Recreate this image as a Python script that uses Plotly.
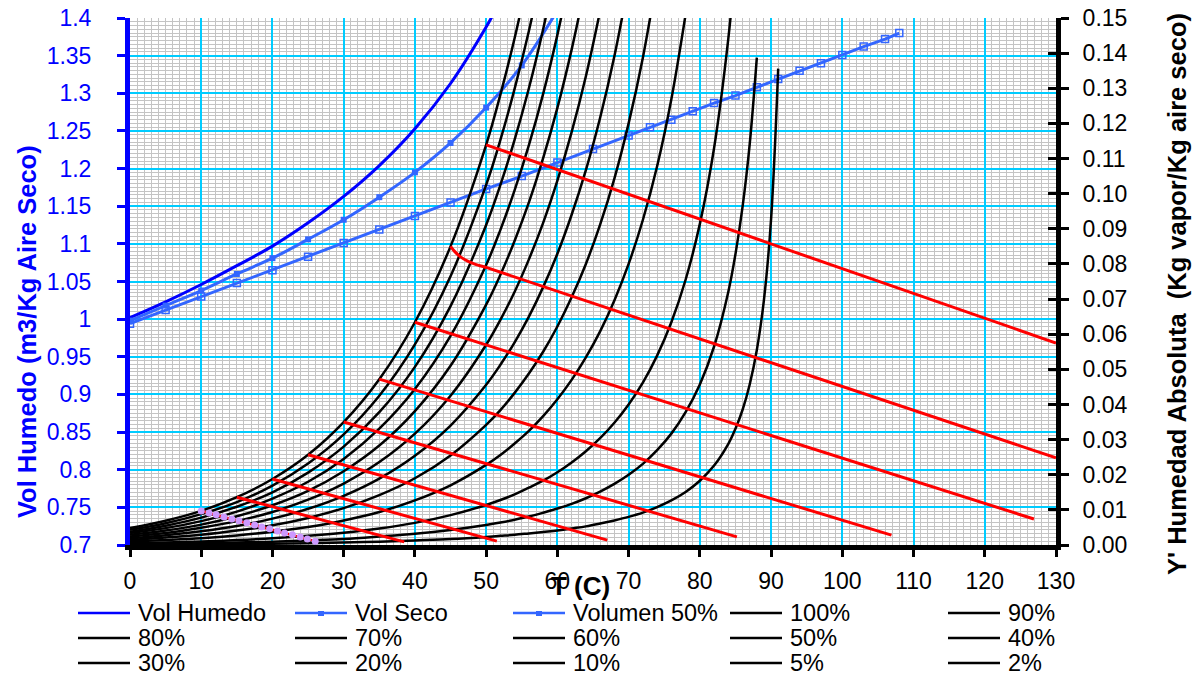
import plotly.graph_objects as go

# ---------------- data ----------------
# temperature grid (C) shared by the humidity curves
T_GRID = [0, 5, 10, 15, 20, 25, 30, 35, 40, 45, 50, 52, 54, 56, 58, 60, 62, 64, 66, 68,
          70, 72, 74, 76, 78, 80, 82, 84, 85, 86, 87, 88, 89, 90, 91]

# absolute humidity Y' (kg vapor / kg dry air) for each percentage-humidity curve
Y_100 = [0.0048, 0.0069, 0.0097, 0.0136, 0.0188, 0.0257, 0.0350, 0.0472, 0.0634, 0.0850, 0.1139,
         0.1282, 0.1443, 0.1626]
Y_90 = [0.0043, 0.0062, 0.0088, 0.0122, 0.0169, 0.0232, 0.0315, 0.0425, 0.0571, 0.0765, 0.1025,
        0.1153, 0.1299, 0.1463, 0.1651]
Y_80 = [0.0038, 0.0055, 0.0078, 0.0109, 0.0150, 0.0206, 0.0280, 0.0378, 0.0507, 0.0680, 0.0911,
        0.1025, 0.1154, 0.1300, 0.1468, 0.1659]
Y_70 = [0.0034, 0.0048, 0.0068, 0.0095, 0.0132, 0.0180, 0.0245, 0.0331, 0.0444, 0.0595, 0.0797,
        0.0897, 0.1010, 0.1138, 0.1284, 0.1452, 0.1644]
Y_60 = [0.0029, 0.0041, 0.0058, 0.0082, 0.0113, 0.0154, 0.0210, 0.0283, 0.0381, 0.0510, 0.0684,
        0.0769, 0.0866, 0.0975, 0.1101, 0.1244, 0.1410, 0.1601]
Y_50 = [0.0024, 0.0034, 0.0049, 0.0068, 0.0094, 0.0129, 0.0175, 0.0236, 0.0317, 0.0425, 0.0570,
        0.0641, 0.0721, 0.0813, 0.0917, 0.1037, 0.1175, 0.1334, 0.1520]
Y_40 = [0.0019, 0.0028, 0.0039, 0.0054, 0.0075, 0.0103, 0.0140, 0.0189, 0.0254, 0.0340, 0.0456,
        0.0513, 0.0577, 0.0650, 0.0734, 0.0829, 0.0940, 0.1067, 0.1216, 0.1391, 0.1600]
Y_30 = [0.0014, 0.0021, 0.0029, 0.0041, 0.0056, 0.0077, 0.0105, 0.0142, 0.0190, 0.0255, 0.0342,
        0.0384, 0.0433, 0.0488, 0.0550, 0.0622, 0.0705, 0.0800, 0.0912, 0.1043, 0.1200, 0.1387,
        0.1617]
Y_20 = [0.0010, 0.0014, 0.0019, 0.0027, 0.0038, 0.0051, 0.0070, 0.0094, 0.0127, 0.0170, 0.0228,
        0.0256, 0.0289, 0.0325, 0.0367, 0.0415, 0.0470, 0.0534, 0.0608, 0.0696, 0.0800, 0.0925,
        0.1078, 0.1269, 0.1510]
Y_10 = [0.0005, 0.0007, 0.0010, 0.0014, 0.0019, 0.0026, 0.0035, 0.0047, 0.0063, 0.0085, 0.0114,
        0.0128, 0.0144, 0.0163, 0.0183, 0.0207, 0.0235, 0.0267, 0.0304, 0.0348, 0.0400, 0.0462,
        0.0539, 0.0634, 0.0755, 0.0914, 0.1130, 0.1442, 0.1655]
Y_5 = [0.00024, 0.00034, 0.00049, 0.00068, 0.00094, 0.0013, 0.0017, 0.0024, 0.0032, 0.0043, 0.0057,
       0.0064, 0.0072, 0.0081, 0.0092, 0.0104, 0.0117, 0.0133, 0.0152, 0.0174, 0.0200, 0.0231,
       0.0270, 0.0317, 0.0378, 0.0457, 0.0565, 0.0721, 0.0828, 0.0963, 0.1141, 0.1387]
Y_2 = [0.0001, 0.00014, 0.00019, 0.00027, 0.00038, 0.00051, 0.0007, 0.00094, 0.0013, 0.0017, 0.0023,
       0.0026, 0.0029, 0.0033, 0.0037, 0.0041, 0.0047, 0.0053, 0.0061, 0.0070, 0.0080, 0.0092,
       0.0108, 0.0127, 0.0151, 0.0183, 0.0226, 0.0288, 0.0331, 0.0385, 0.0457, 0.0555, 0.0698,
       0.0928, 0.1356]

HUM_LABELS = ["100%", "90%", "80%", "70%", "60%", "50%", "40%", "30%", "20%", "10%", "5%", "2%"]

# humid volumes (m3 / kg dry air), left axis
T_VHUM = [0, 5, 10, 15, 20, 25, 30, 35, 40, 45, 50, 52]
V_HUM = [1.002, 1.023, 1.046, 1.071, 1.097, 1.128, 1.163, 1.204, 1.253, 1.313, 1.388, 1.423]

T_VSECO = [0, 5, 10, 15, 20, 25, 30, 35, 40, 45, 50, 55, 60, 65, 70, 73, 76, 79, 82, 85, 88, 91,
           94, 97, 100, 103, 106, 108]
V_SECO = [0.994, 1.012, 1.030, 1.048, 1.065, 1.083, 1.101, 1.119, 1.137, 1.155, 1.173, 1.190,
          1.208, 1.226, 1.244, 1.255, 1.265, 1.276, 1.287, 1.297, 1.308, 1.319, 1.330, 1.340,
          1.351, 1.362, 1.372, 1.380]

T_V50 = [0, 5, 10, 15, 20, 25, 30, 35, 40, 45, 50, 55, 60]
V_50 = [0.998, 1.018, 1.038, 1.060, 1.081, 1.106, 1.132, 1.162, 1.195, 1.234, 1.281, 1.337, 1.410]

# adiabatic saturation lines (right axis)
AD10_T = [10.0, 11.1, 12.1, 13.2, 14.3, 15.3, 16.4, 17.5, 18.5, 19.6, 20.7, 21.7, 22.8, 23.9, 24.9, 26.0]
AD10_Y = [0.0097, 0.0091, 0.0086, 0.0080, 0.0074, 0.0069, 0.0063, 0.0057, 0.0051, 0.0046, 0.0040,
          0.0034, 0.0029, 0.0023, 0.0017, 0.0011]
AD15_T, AD15_Y = [15, 38.5], [0.0136, 0.0009]
AD20_T, AD20_Y = [20, 51.5], [0.0188, 0.0011]
AD25_T, AD25_Y = [25, 67.0], [0.0257, 0.0014]
AD30_T, AD30_Y = [30, 85.2], [0.0350, 0.0023]
AD35_T, AD35_Y = [35, 106.9], [0.0472, 0.0028]
AD40_T, AD40_Y = [40, 126.9], [0.0634, 0.0074]
AD45_T = [45.0, 45.6, 46.4, 47.4, 48.6, 50.0, 130.0]
AD45_Y = [0.0850, 0.0835, 0.0820, 0.0808, 0.0798, 0.0790, 0.0248]
AD50_T, AD50_Y = [50, 130], [0.1139, 0.0575]

# ---------------- styling ----------------
FONT = "Liberation Sans, Arial, sans-serif"
BLUE_DARK = "#0000FF"
BLUE = "#3366FF"
CYAN = "#00CCFF"
GRAY = "#C4C4C4"
RED = "#FF0000"
LAVENDER = "#CC99FF"

fig = go.Figure()

# volumes on left axis
fig.add_trace(go.Scatter(x=T_VHUM, y=V_HUM, mode="lines", name="Vol Humedo",
                         line=dict(color=BLUE_DARK, width=3, shape="spline"), yaxis="y"))
fig.add_trace(go.Scatter(x=T_VSECO, y=V_SECO, mode="lines+markers", name="Vol Seco",
                         line=dict(color=BLUE, width=3),
                         marker=dict(symbol="square-open", size=7, color=BLUE,
                                     line=dict(color=BLUE, width=1.5)), yaxis="y"))
fig.add_trace(go.Scatter(x=T_V50, y=V_50, mode="lines+markers", name="Volumen 50%",
                         line=dict(color=BLUE, width=3, shape="spline"),
                         marker=dict(symbol="square", size=6, color=BLUE), yaxis="y"))

# humidity curves on right axis
for lab, ys in zip(HUM_LABELS, [Y_100, Y_90, Y_80, Y_70, Y_60, Y_50, Y_40, Y_30, Y_20, Y_10, Y_5, Y_2]):
    fig.add_trace(go.Scatter(x=T_GRID[:len(ys)], y=ys, mode="lines", name=lab,
                             line=dict(color="black", width=2.5, shape="spline"), yaxis="y2"))

# adiabatic lines
for tt, yy in [(AD15_T, AD15_Y), (AD20_T, AD20_Y), (AD25_T, AD25_Y), (AD30_T, AD30_Y),
               (AD35_T, AD35_Y), (AD40_T, AD40_Y), (AD45_T, AD45_Y), (AD50_T, AD50_Y)]:
    fig.add_trace(go.Scatter(x=tt, y=yy, mode="lines", showlegend=False,
                             line=dict(color=RED, width=3, shape="spline"), yaxis="y2"))
fig.add_trace(go.Scatter(x=AD10_T, y=AD10_Y, mode="lines+markers", showlegend=False,
                         line=dict(color=RED, width=2.5),
                         marker=dict(symbol="circle", size=7, color=LAVENDER), yaxis="y2"))
# carrier for the inner tick marks of the right axis
fig.add_trace(go.Scatter(x=[], y=[], mode="lines", showlegend=False, yaxis="y3"))

fig.update_layout(
    width=1196, height=675,
    margin=dict(l=130, r=140, t=18, b=130, autoexpand=False),
    plot_bgcolor="white", paper_bgcolor="white",
    showlegend=False,
    font=dict(family=FONT, size=23, color="black"),
    xaxis=dict(range=[0, 130], tick0=0, dtick=10, showgrid=True, gridcolor=CYAN, gridwidth=2,
               minor=dict(dtick=1, showgrid=True, gridcolor=GRAY, gridwidth=1),
               showline=True, linecolor="black", linewidth=5, zeroline=False, automargin=False,
               ticks="outside", tickcolor="black", ticklen=7, tickwidth=3,
               tickfont=dict(family=FONT, size=23, color="black"), ticklabelstandoff=4),
    yaxis=dict(range=[0.7, 1.4], tick0=0.7, dtick=0.05, showgrid=True, gridcolor=CYAN, gridwidth=2,
               minor=dict(dtick=0.005, showgrid=True, gridcolor=GRAY, gridwidth=1),
               showline=True, linecolor=BLUE_DARK, linewidth=5, zeroline=False, automargin=False,
               ticks="outside", tickcolor=BLUE_DARK, ticklen=8, tickwidth=3,
               tickfont=dict(family=FONT, size=23, color=BLUE_DARK), ticklabelstandoff=21),
    yaxis2=dict(range=[0, 0.15], tick0=0, dtick=0.01, tickformat=".2f", overlaying="y", side="right",
                showgrid=False, showline=True, linecolor="black", linewidth=5, zeroline=False,
                automargin=False,
                ticks="outside", tickcolor="black", ticklen=8, tickwidth=3,
                tickfont=dict(family=FONT, size=23, color="black"), ticklabelstandoff=9),
    yaxis3=dict(range=[0, 0.15], tick0=0, dtick=0.01, overlaying="y", side="right",
                showgrid=False, showline=False, zeroline=False, showticklabels=False,
                automargin=False, ticks="inside", tickcolor="black", ticklen=8, tickwidth=3),
)

# ---------------- titles ----------------
X0, X1, YB, YT = 130.0, 1056.0, 545.0, 18.0
def px(x):
    return (x - X0) / (X1 - X0)
def py(y):
    return (YB - y) / (YB - YT)

annotations = [
    dict(text="<b>Vol Humedo (m3/Kg Aire Seco)</b>", x=px(27), y=py(332), textangle=-90,
         font=dict(family=FONT, size=25.5, color=BLUE_DARK)),
    dict(text="<b>Y' Humedad Absoluta  (Kg vapor/Kg aire seco)</b>", x=px(1177), y=py(294),
         textangle=-90, font=dict(family=FONT, size=25.5, color="black")),
    dict(text="<b>T (C)</b>", x=px(580), y=py(586), font=dict(family=FONT, size=26, color="black")),
]
for a in annotations:
    a.update(xref="paper", yref="paper", showarrow=False, xanchor="center", yanchor="middle")

# ---------------- manual legend ----------------
legend_items = [("Vol Humedo", BLUE_DARK, False), ("Vol Seco", BLUE, True), ("Volumen 50%", BLUE, True)]
legend_items += [(lab, "black", False) for lab in HUM_LABELS]
col_x = [78, 295, 513, 730, 948]
row_y = [613, 638, 663]
shapes = []
for i, (lab, col, mk) in enumerate(legend_items):
    cx = col_x[i % 5]
    ry = row_y[i // 5]
    shapes.append(dict(type="line", xref="paper", yref="paper", x0=px(cx), x1=px(cx + 52),
                       y0=py(ry), y1=py(ry), line=dict(color=col, width=2.5)))
    if mk:
        shapes.append(dict(type="rect", xref="paper", yref="paper", x0=px(cx + 23), x1=px(cx + 29),
                           y0=py(ry + 3), y1=py(ry - 2), fillcolor=col, line=dict(width=0)))
    annotations.append(dict(text=lab, xref="paper", yref="paper", x=px(cx + 58), y=py(ry),
                            xanchor="left", yanchor="middle", showarrow=False,
                            font=dict(family=FONT, size=23.5, color="black")))

fig.update_layout(annotations=annotations, shapes=shapes)
fig.write_html("out.html")
